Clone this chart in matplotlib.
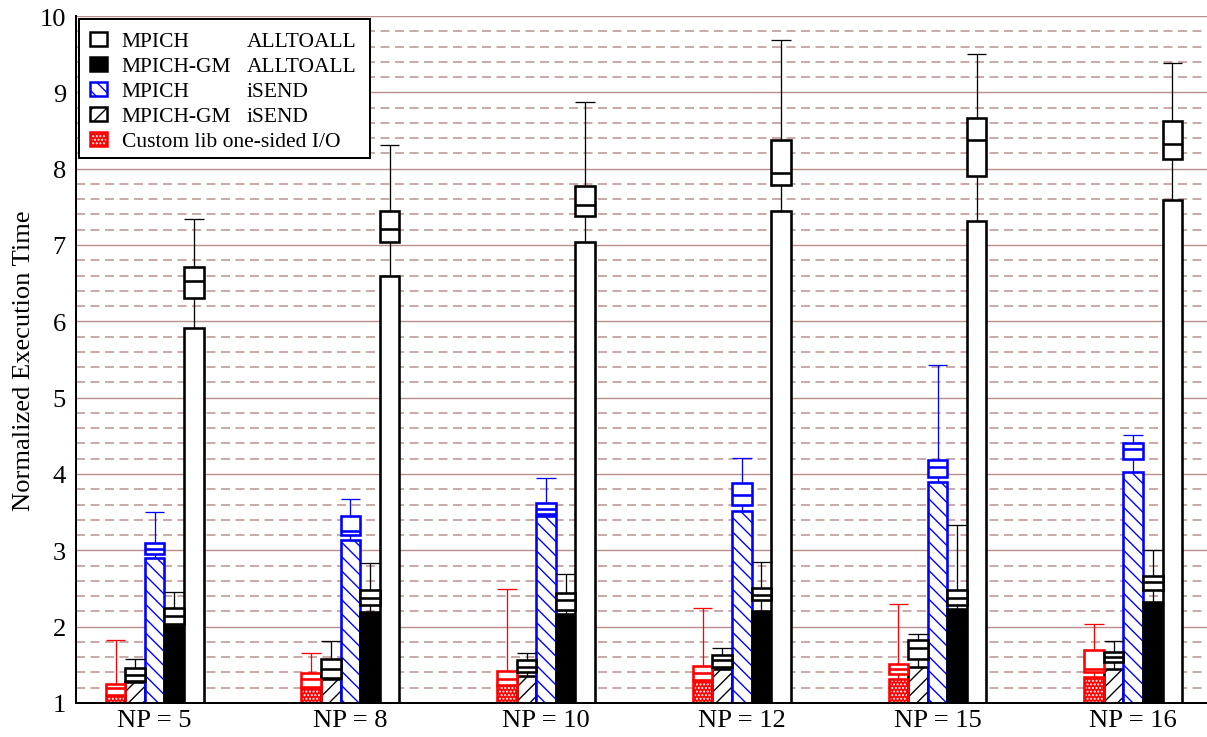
import numpy as np
import matplotlib
matplotlib.use("Agg")
import matplotlib.pyplot as plt
from matplotlib.patches import Rectangle
from matplotlib.ticker import MultipleLocator

# ---------------- data ----------------
groups = ["NP = 5", "NP = 8", "NP = 10", "NP = 12", "NP = 15", "NP = 16"]

# Custom lib one-sided I/O
custom_bar = [1.10, 1.21, 1.24, 1.30, 1.32, 1.34]
custom_q1 = [1.10, 1.21, 1.24, 1.30, 1.386, 1.40]
custom_med = [1.19, 1.31, 1.32, 1.39, 1.45, 1.45]
custom_q3 = [1.255, 1.395, 1.416, 1.487, 1.517, 1.69]
custom_max = [1.82, 1.66, 2.50, 2.25, 2.30, 2.03]

# MPICH-GM iSEND
gmis_bar = [1.27, 1.31, 1.355, 1.45, 1.47, 1.45]
gmis_q1 = [1.285, 1.33, 1.41, 1.47, 1.58, 1.54]
gmis_med = [1.365, 1.45, 1.47, 1.56, 1.72, 1.60]
gmis_q3 = [1.46, 1.57, 1.56, 1.626, 1.82, 1.67]
gmis_max = [1.575, 1.81, 1.65, 1.72, 1.91, 1.81]

# MPICH iSEND
mpis_bar = [2.906, 3.135, 3.45, 3.52, 3.895, 4.03]
mpis_q1 = [2.95, 3.205, 3.475, 3.60, 3.96, 4.20]
mpis_med = [3.02, 3.25, 3.545, 3.72, 4.09, 4.33]
mpis_q3 = [3.09, 3.45, 3.62, 3.886, 4.18, 4.41]
mpis_max = [3.50, 3.67, 3.95, 4.21, 5.43, 4.51]

# MPICH-GM ALLTOALL
gmall_bar = [2.005, 2.19, 2.17, 2.20, 2.23, 2.325]
gmall_q1 = [2.04, 2.28, 2.215, 2.345, 2.28, 2.48]
gmall_med = [2.14, 2.38, 2.345, 2.42, 2.37, 2.585]
gmall_q3 = [2.24, 2.48, 2.445, 2.51, 2.476, 2.67]
gmall_max = [2.46, 2.83, 2.695, 2.85, 3.33, 3.00]

# MPICH ALLTOALL
mpall_bar = [5.915, 6.60, 7.04, 7.45, 7.31, 7.59]
mpall_q1 = [6.31, 7.04, 7.375, 7.79, 7.91, 8.13]
mpall_med = [6.53, 7.21, 7.53, 7.94, 8.37, 8.32]
mpall_q3 = [6.71, 7.45, 7.77, 8.37, 8.67, 8.625]
mpall_max = [7.345, 8.31, 8.87, 9.69, 9.505, 9.38]

legend_col1 = ["MPICH", "MPICH-GM", "MPICH", "MPICH-GM", "Custom lib one-sided I/O"]
legend_col2 = ["ALLTOALL", "ALLTOALL", "iSEND", "iSEND", ""]
ylabel = "Normalized Execution Time"

# ---------------- figure ----------------
W, H, DPI = 1207, 738, 86
plt.rcParams["font.family"] = ["Liberation Serif", "DejaVu Serif"]
plt.rcParams["lines.scale_dashes"] = False
plt.rcParams["hatch.linewidth"] = 1.15


def pt(px):
    return px * 72.0 / DPI


fig = plt.figure(figsize=(W / DPI, H / DPI), dpi=DPI)
left_px, right_px, top_px, bot_px = 76, 1207, 17, 704
ax = fig.add_axes([left_px / W, 1 - bot_px / H, (right_px - left_px) / W, (bot_px - top_px) / H])

pitch = 195.7
c0 = 154.7
ax.set_xlim((left_px - c0) / pitch, (right_px - c0) / pitch)
ax.set_ylim(1, 10)

gc = "#bb8e8e"
ax.set_yticks(np.arange(1, 11))
ax.yaxis.set_minor_locator(MultipleLocator(0.2))
ax.grid(axis="y", which="major", color=gc, lw=pt(1.4), ls="-")
ax.grid(axis="y", which="minor", color=gc, lw=pt(1.5), ls=(0, (pt(9), pt(5.5))))
ax.set_axisbelow(True)

ax.set_xticks(np.arange(len(groups)))
ax.set_xticklabels(groups)
ax.tick_params(which="both", length=0)
ax.tick_params(axis="y", pad=pt(10), labelsize=pt(26.5))
ax.tick_params(axis="x", pad=pt(6), labelsize=pt(26.5))
for s in ["top", "right"]:
    ax.spines[s].set_visible(False)
for s in ["left", "bottom"]:
    ax.spines[s].set_linewidth(pt(2))
    ax.spines[s].set_color("black")

ax.set_ylabel(ylabel, fontsize=pt(26.5))
ax.yaxis.set_label_coords((35 - left_px) / (right_px - left_px), 0.5)

LW = pt(2.6)
THIN = pt(1.3)
w = 0.1
x0 = np.arange(len(groups))

series = [
    (custom_bar, custom_q1, custom_med, custom_q3, custom_max, "custom"),
    (gmis_bar, gmis_q1, gmis_med, gmis_q3, gmis_max, "gmis"),
    (mpis_bar, mpis_q1, mpis_med, mpis_q3, mpis_max, "mpis"),
    (gmall_bar, gmall_q1, gmall_med, gmall_q3, gmall_max, "gmall"),
    (mpall_bar, mpall_q1, mpall_med, mpall_q3, mpall_max, "mpall"),
]

styles = {
    "custom": dict(edge="red"),
    "gmis": dict(edge="black"),
    "mpis": dict(edge="blue"),
    "gmall": dict(edge="black"),
    "mpall": dict(edge="black"),
}

for k, (bar, q1, med, q3, mx, key) in enumerate(series):
    x = x0 + (k - 2) * w
    bar = np.array(bar)
    q1 = np.array(q1)
    med = np.array(med)
    q3 = np.array(q3)
    mx = np.array(mx)
    edge = styles[key]["edge"]
    h = bar - 1
    if key == "custom":
        ax.bar(x, h, bottom=1, width=w, color="red", edgecolor="white", hatch="....", lw=0, zorder=2)
        ax.bar(x, h, bottom=1, width=w, fill=False, edgecolor="red", lw=LW, zorder=2.1)
    elif key == "gmis":
        ax.bar(x, h, bottom=1, width=w, facecolor="white", edgecolor="black", hatch="//", lw=LW, zorder=2)
    elif key == "mpis":
        ax.bar(x, h, bottom=1, width=w, facecolor="white", edgecolor="blue", hatch="\\\\", lw=LW, zorder=2)
    elif key == "gmall":
        ax.bar(x, h, bottom=1, width=w, facecolor="black", edgecolor="black", lw=LW, zorder=2)
    else:
        ax.bar(x, h, bottom=1, width=w, facecolor="white", edgecolor="black", lw=LW, zorder=2)
    ax.vlines(x, bar, q1, color=edge, lw=THIN, zorder=2.5)
    ax.vlines(x, q3, mx, color=edge, lw=THIN, zorder=2.5)
    ax.hlines(mx, x - w / 2, x + w / 2, color=edge, lw=THIN, zorder=2.5)
    ax.bar(x, q3 - q1, bottom=q1, width=w, facecolor="white", edgecolor=edge, lw=LW, zorder=3)
    ax.hlines(med, x - w / 2, x + w / 2, color=edge, lw=LW, zorder=3.1)

# ---------------- legend (manual, pixel layout) ----------------
def fx(px):
    return px / W


def fy(py):
    return 1 - py / H


frame = Rectangle((fx(79), fy(159)), fx(370) - fx(79), fy(20) - fy(159),
                  transform=fig.transFigure, facecolor="white", edgecolor="black",
                  lw=pt(2), zorder=5)
fig.add_artist(frame)

row_c = [40.3, 65.0, 90.0, 115.0, 140.3]
handle_kw = [
    dict(facecolor="white", edgecolor="black"),
    dict(facecolor="black", edgecolor="black"),
    dict(facecolor="white", edgecolor="blue", hatch="\\\\"),
    dict(facecolor="white", edgecolor="black", hatch="//"),
    None,
]
hw, hh = 17.5, 14.0
for i, yc in enumerate(row_c):
    xl = 98.3 - hw / 2
    yt = yc - hh / 2
    if handle_kw[i] is None:
        r1 = Rectangle((fx(xl), fy(yt + hh)), hw / W, hh / H, transform=fig.transFigure,
                       facecolor="red", edgecolor="white", hatch="....", lw=0, zorder=6)
        r2 = Rectangle((fx(xl), fy(yt + hh)), hw / W, hh / H, transform=fig.transFigure,
                       fill=False, edgecolor="red", lw=pt(2.5), zorder=6.1)
        fig.add_artist(r1)
        fig.add_artist(r2)
    else:
        r = Rectangle((fx(xl), fy(yt + hh)), hw / W, hh / H, transform=fig.transFigure,
                      lw=pt(2.5), zorder=6, **handle_kw[i])
        fig.add_artist(r)
    fig.text(fx(121.7), fy(yc + 7.0), legend_col1[i], ha="left", va="baseline",
             fontsize=pt(21.5), zorder=7)
    if legend_col2[i]:
        fig.text(fx(246.7), fy(yc + 7.0), legend_col2[i], ha="left", va="baseline",
                 fontsize=pt(21.5), zorder=7)

fig.savefig("out.png", dpi=DPI)
